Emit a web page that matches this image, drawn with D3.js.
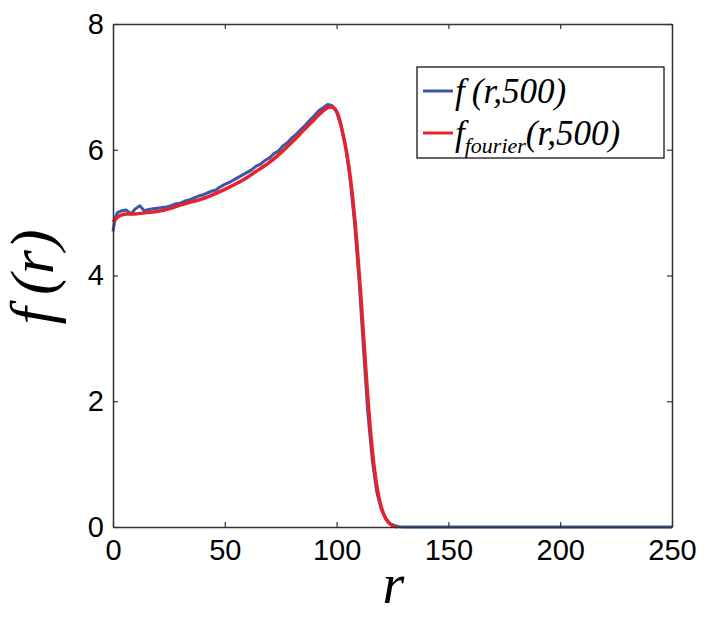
<!DOCTYPE html>
<html>
<head>
  <meta charset="utf-8">
  <title>f(r,500)</title>
  <script src="https://cdn.jsdelivr.net/npm/d3@7"></script>
  <style>
    body { margin: 0; background: #fff; }
    .tick text { font-family: "Liberation Sans", Arial, sans-serif; }
    .serif { font-family: "Liberation Serif", "DejaVu Serif", "Times New Roman", serif; font-style: italic; }
  </style>
</head>
<body>
<div id="chart"></div>
<script>
// ---- data ----
const rBlue = [0, 1, 2, 4, 6, 8, 10, 12, 14, 16, 18, 20, 22, 24, 26, 28, 30, 32, 34, 36, 38, 40,
  42, 44, 46, 48, 50, 52, 54, 56, 58, 60, 62, 64, 66, 68, 70, 72, 74, 76, 78, 80, 82, 84, 86,
  88, 90, 92, 94, 96, 98, 100, 102, 104, 106, 108, 110, 112, 114, 116, 118, 120, 122, 124,
  126, 128, 130, 250];
const fBlue = [4.70, 4.92, 5.00, 5.03, 5.04, 4.98, 5.06, 5.11, 5.03, 5.05, 5.06, 5.07, 5.08,
  5.09, 5.11, 5.14, 5.15, 5.18, 5.20, 5.23, 5.26, 5.28, 5.31, 5.34, 5.36, 5.41, 5.45, 5.48,
  5.52, 5.56, 5.60, 5.64, 5.68, 5.74, 5.77, 5.83, 5.87, 5.94, 5.98, 6.06, 6.11, 6.19, 6.25,
  6.32, 6.39, 6.47, 6.54, 6.62, 6.67, 6.72, 6.70, 6.60, 6.38, 6.05, 5.55, 4.85, 3.95, 2.85,
  1.80, 1.05, 0.55, 0.28, 0.13, 0.05, 0.02, 0.005, 0.0, 0.0];

const rRed = [0, 3, 6, 10, 15, 20, 25, 30, 35, 40, 45, 50, 55, 60, 65, 70, 75, 80, 85, 90, 94,
  97, 99, 101, 103, 105, 107, 109, 111, 113, 115, 117, 119, 121, 123, 125, 127];
const fRed = [4.85, 4.95, 4.98, 4.98, 5.00, 5.02, 5.06, 5.12, 5.17, 5.22, 5.29, 5.37, 5.46,
  5.56, 5.68, 5.80, 5.95, 6.12, 6.30, 6.48, 6.62, 6.68, 6.66, 6.52, 6.22, 5.85, 5.30, 4.55,
  3.60, 2.55, 1.60, 0.90, 0.46, 0.21, 0.08, 0.02, 0.0];

const xTicks = [0, 50, 100, 150, 200, 250];
const yTicks = [0, 2, 4, 6, 8];

const W = 714, H = 618;
const plotL = 113, plotR = 672, plotT = 24, plotB = 527;
const blue = "#3b57a8", red = "#e8222b";

const svg = d3.select("#chart").append("svg")
  .attr("width", W).attr("height", H);

const x = d3.scaleLinear().domain([0, 250]).range([plotL, plotR]);
const y = d3.scaleLinear().domain([0, 8]).range([plotB, plotT]);

// curves
const line = d3.line().x(d => x(d[0])).y(d => y(d[1]));
svg.append("path")
  .datum(rBlue.map((r, i) => [r, fBlue[i]]))
  .attr("d", line)
  .attr("fill", "none").attr("stroke", blue).attr("stroke-width", 3)
  .attr("stroke-linejoin", "round");
svg.append("path")
  .datum(rRed.map((r, i) => [r, fRed[i]]))
  .attr("d", line.curve(d3.curveMonotoneX))
  .attr("fill", "none").attr("stroke", red).attr("stroke-width", 3.5)
  .attr("stroke-linejoin", "round");

// axes, boxed with inward ticks
const axisColor = "#333";
function styleAxis(g, showText) {
  g.select(".domain").attr("stroke", axisColor).attr("stroke-width", 1.5);
  g.selectAll(".tick line").attr("stroke", axisColor).attr("stroke-width", 1.2);
  g.selectAll(".tick text").attr("font-size", 29).attr("fill", "#000")
    .style("display", showText ? null : "none");
}
svg.append("g").attr("transform", `translate(0,${plotB})`)
  .call(d3.axisBottom(x).tickValues(xTicks).tickSizeInner(-5).tickSizeOuter(0).tickPadding(12))
  .call(g => styleAxis(g, true));
svg.append("g").attr("transform", `translate(0,${plotT})`)
  .call(d3.axisTop(x).tickValues(xTicks).tickSizeInner(-5).tickSizeOuter(0))
  .call(g => styleAxis(g, false));
svg.append("g").attr("transform", `translate(${plotL},0)`)
  .call(d3.axisLeft(y).tickValues(yTicks).tickSizeInner(-5).tickSizeOuter(0).tickPadding(9))
  .call(g => styleAxis(g, true));
svg.append("g").attr("transform", `translate(${plotR},0)`)
  .call(d3.axisRight(y).tickValues(yTicks).tickSizeInner(-5).tickSizeOuter(0))
  .call(g => styleAxis(g, false));
svg.selectAll(".tick text").attr("font-family", null);

// axis titles
svg.append("text").attr("class", "serif")
  .attr("x", (plotL + plotR) / 2 + 1).attr("y", 603)
  .attr("text-anchor", "middle")
  .attr("font-size", 56)
  .text("r");
svg.append("text").attr("class", "serif")
  .attr("transform", "translate(53,277) rotate(-90)")
  .attr("text-anchor", "middle")
  .attr("font-size", 62)
  .text("f\u2009(r)");

// legend
const lg = svg.append("g");
lg.append("rect")
  .attr("x", 417).attr("y", 67).attr("width", 247).attr("height", 91)
  .attr("fill", "#fff").attr("stroke", "#000").attr("stroke-width", 1.2);
const rows = [
  { color: blue, y: 91, base: 103, sub: null },
  { color: red, y: 133, base: 145, sub: "fourier" }
];
rows.forEach(rw => {
  lg.append("line")
    .attr("x1", 423).attr("x2", 453).attr("y1", rw.y).attr("y2", rw.y)
    .attr("stroke", rw.color).attr("stroke-width", 3);
  const t = lg.append("text").attr("class", "serif")
    .attr("x", 455).attr("y", rw.base)
    .attr("font-size", 35);
  t.append("tspan").text("f");
  if (rw.sub) {
    t.append("tspan").attr("font-size", 22).attr("dy", 8).text(rw.sub);
    t.append("tspan").attr("dy", -8).text("(r,500)");
  } else {
    t.append("tspan").text("\u2009(r,500)");
  }
});
</script>
</body>
</html>
